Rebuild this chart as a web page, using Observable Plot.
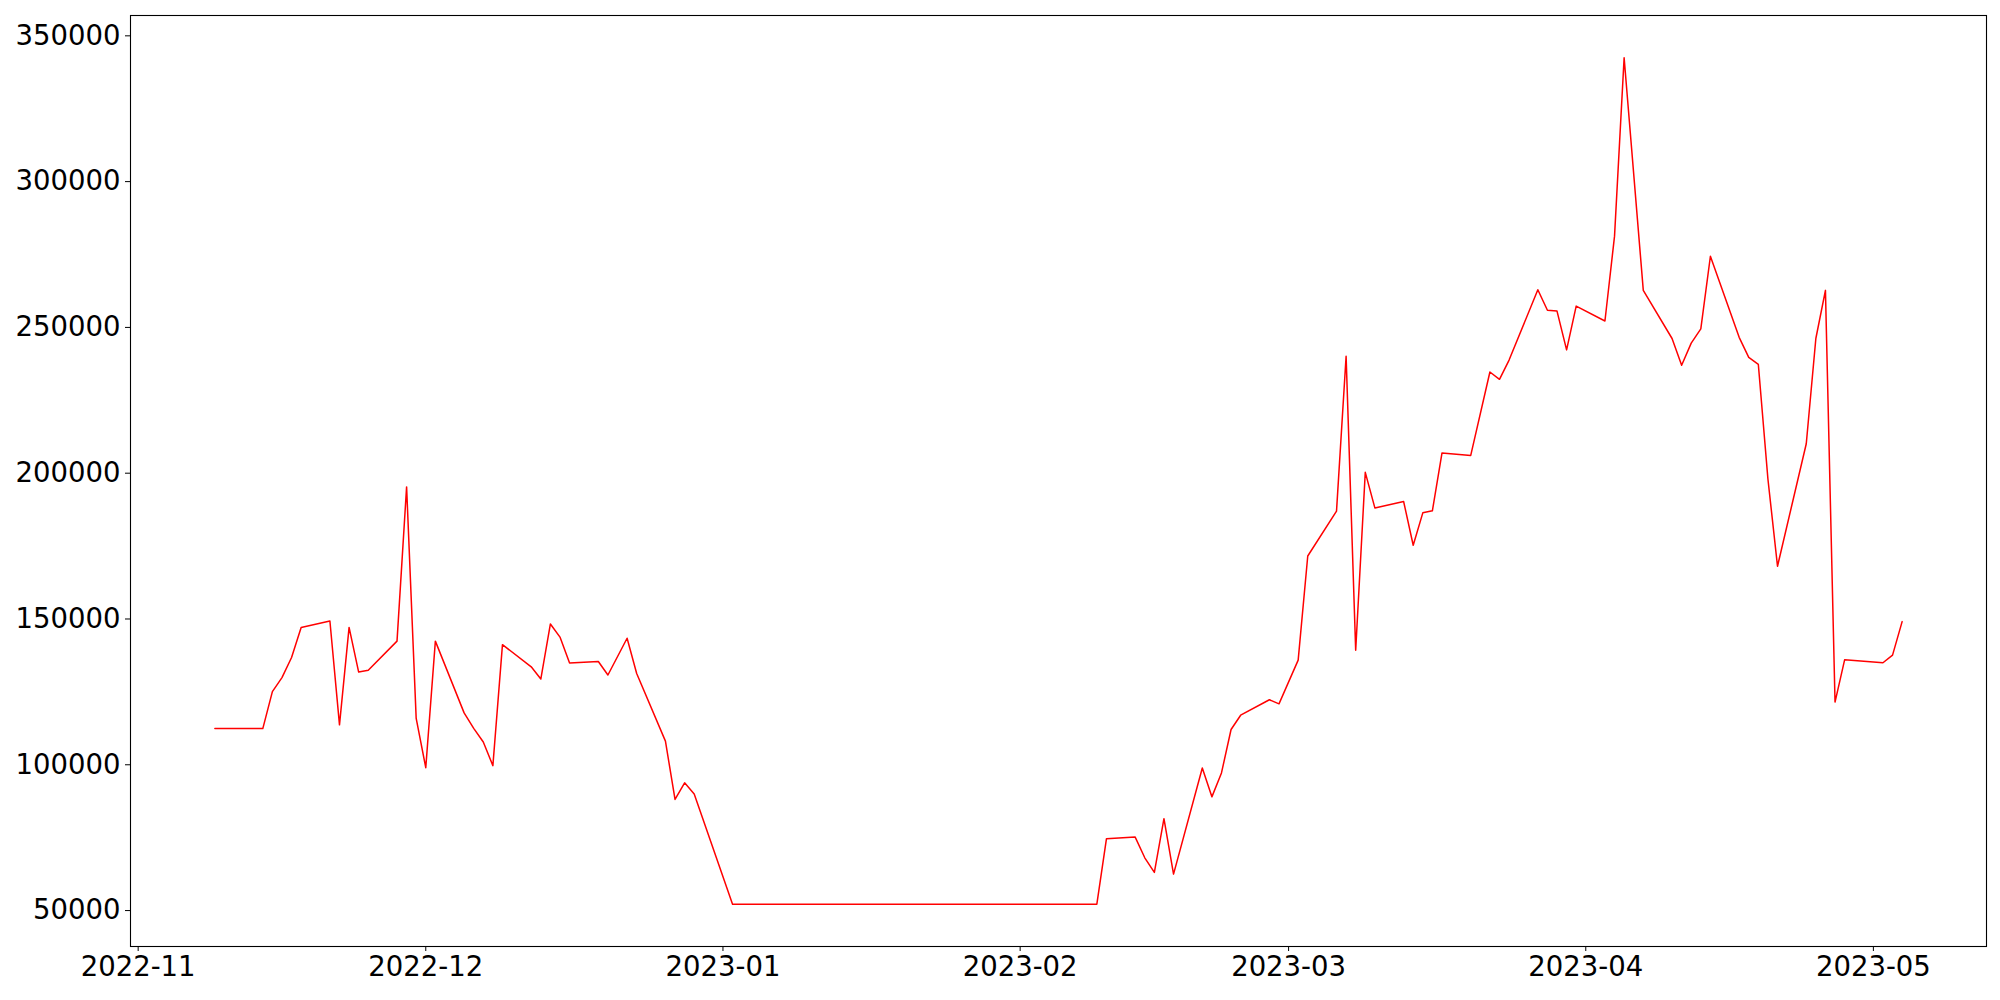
<!DOCTYPE html>
<html>
<head>
<meta charset="utf-8">
<script src="https://cdn.jsdelivr.net/npm/d3@7"></script>
<script src="https://cdn.jsdelivr.net/npm/@observablehq/plot@0.6"></script>
<style>
  html, body { margin: 0; padding: 0; background: white; }
</style>
</head>
<body>
<div id="chart"></div>
<script>
const dates = [
  "2022-11-09","2022-11-14","2022-11-15","2022-11-16","2022-11-17","2022-11-18",
  "2022-11-21","2022-11-22","2022-11-23","2022-11-24","2022-11-25",
  "2022-11-28","2022-11-29","2022-11-30","2022-12-01","2022-12-02",
  "2022-12-05","2022-12-06","2022-12-07","2022-12-08","2022-12-09",
  "2022-12-12","2022-12-13","2022-12-14","2022-12-15","2022-12-16",
  "2022-12-19","2022-12-20","2022-12-22","2022-12-23",
  "2022-12-26","2022-12-27","2022-12-28","2022-12-29",
  "2023-01-02","2023-02-09","2023-02-10",
  "2023-02-13","2023-02-14","2023-02-15","2023-02-16","2023-02-17",
  "2023-02-20","2023-02-21","2023-02-22","2023-02-23","2023-02-24",
  "2023-02-27","2023-02-28","2023-03-02","2023-03-03",
  "2023-03-06","2023-03-07","2023-03-08","2023-03-09","2023-03-10",
  "2023-03-13","2023-03-14","2023-03-15","2023-03-16","2023-03-17",
  "2023-03-20","2023-03-22","2023-03-23","2023-03-24",
  "2023-03-27","2023-03-28","2023-03-29","2023-03-30","2023-03-31",
  "2023-04-03","2023-04-04","2023-04-05","2023-04-07",
  "2023-04-10","2023-04-11","2023-04-12","2023-04-13","2023-04-14",
  "2023-04-17","2023-04-18","2023-04-19","2023-04-20","2023-04-21",
  "2023-04-24","2023-04-25","2023-04-26","2023-04-27","2023-04-28",
  "2023-05-02","2023-05-03","2023-05-04"
];
const values = [
  112400,112400,125100,129900,136800,147100,
  149300,113700,147100,131800,132400,
  142400,195300,115900,99000,142400,
  117800,112500,107800,99700,141200,
  133600,129400,148300,143800,134900,
  135400,130800,143400,131300,
  108100,88100,93800,90000,
  52200,52200,74600,
  75200,68100,63100,81500,62500,
  98900,89000,97200,112100,117000,
  122300,120900,135900,171600,
  187000,240100,139300,200300,188100,
  190300,175300,186400,187100,206900,
  206100,234700,232200,238800,
  262900,255900,255600,242300,257300,
  252200,281300,342500,262700,
  246200,237000,244600,249500,274400,
  246600,239700,237300,198000,168100,
  210100,246200,262700,121500,136000,
  135000,137600,149100
];
const monthTicks = ["2022-11-01","2022-12-01","2023-01-01","2023-02-01","2023-03-01","2023-04-01","2023-05-01"];
const yTicks = [50000,100000,150000,200000,250000,300000,350000];

const data = dates.map((d, i) => ({date: new Date(d + "T00:00:00Z"), value: values[i]}));

const chart = Plot.plot({
  width: 2000,
  height: 1000,
  marginLeft: 130,
  marginRight: 14,
  marginTop: 15,
  marginBottom: 54,
  style: {fontFamily: "DejaVu Sans", fontSize: "27.5px", color: "black", background: "white"},
  x: {type: "utc", domain: [new Date("2022-10-31T04:48:00Z"), new Date("2023-05-12T19:12:00Z")]},
  y: {domain: [37677, 356973]},
  marks: [
    Plot.line(data, {x: "date", y: "value", stroke: "red", strokeWidth: 1.5}),
    Plot.frame({stroke: "black", strokeWidth: 1.1}),
    Plot.axisX({ticks: monthTicks.map(d => new Date(d + "T00:00:00Z")), tickFormat: d3.utcFormat("%Y-%m"), tickSize: 5, tickPadding: 5, label: null, fontSize: 27.5}),
    Plot.axisY({ticks: yTicks, tickFormat: d3.format("d"), tickSize: 5, tickPadding: 5, label: null, fontSize: 27.5})
  ]
});
document.getElementById("chart").appendChild(chart);
</script>
</body>
</html>
